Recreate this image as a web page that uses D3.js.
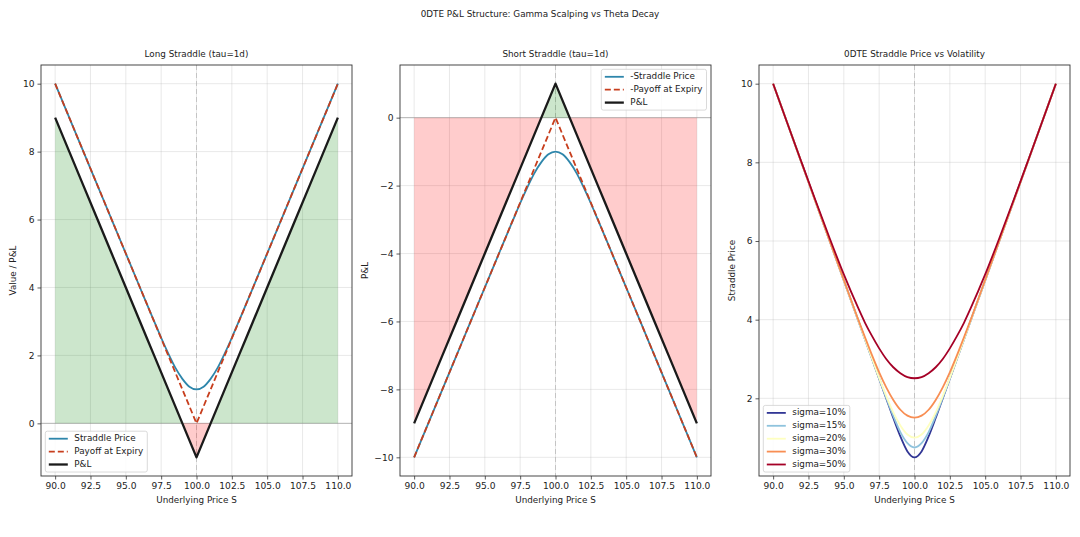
<!DOCTYPE html>
<html>
<head>
<meta charset="utf-8">
<script src="https://cdn.jsdelivr.net/npm/d3@7"></script>
<style>
  body { margin: 0; background: #fff; }
  svg text { font-family: "DejaVu Sans", sans-serif; fill: #222; }
</style>
</head>
<body>
<div id="main"></div>
<script>
// Underlying grid (finer around the strike)
const prices = [90, 91, 92, 93, 94, 95, 96, 96.5, 97, 97.5, 98, 98.5, 99, 99.5, 100, 100.5, 101, 101.5, 102, 102.5, 103, 103.5, 104, 105, 106, 107, 108, 109, 110];

// Long straddle panel
const straddlePrice = [10, 9, 8, 7, 6, 5, 4, 3.50, 3.01, 2.52, 2.06, 1.64, 1.31, 1.08, 1.00, 1.08, 1.31, 1.64, 2.06, 2.52, 3.01, 3.50, 4, 5, 6, 7, 8, 9, 10];
const payoffExpiry = [10, 9, 8, 7, 6, 5, 4, 3.5, 3, 2.5, 2, 1.5, 1, 0.5, 0, 0.5, 1, 1.5, 2, 2.5, 3, 3.5, 4, 5, 6, 7, 8, 9, 10];
const longPnl = [9, 8, 7, 6, 5, 4, 3, 2.5, 2, 1.5, 1, 0.5, 0, -0.5, -1, -0.5, 0, 0.5, 1, 1.5, 2, 2.5, 3, 4, 5, 6, 7, 8, 9];

// Short straddle panel
const shortStraddle = [-10, -9, -8, -7, -6, -5, -4, -3.50, -3.01, -2.52, -2.06, -1.64, -1.31, -1.08, -1.00, -1.08, -1.31, -1.64, -2.06, -2.52, -3.01, -3.50, -4, -5, -6, -7, -8, -9, -10];
const shortPayoff = [-10, -9, -8, -7, -6, -5, -4, -3.5, -3, -2.5, -2, -1.5, -1, -0.5, 0, -0.5, -1, -1.5, -2, -2.5, -3, -3.5, -4, -5, -6, -7, -8, -9, -10];
const shortPnl = [-9, -8, -7, -6, -5, -4, -3, -2.5, -2, -1.5, -1, -0.5, 0, 0.5, 1, 0.5, 0, -0.5, -1, -1.5, -2, -2.5, -3, -4, -5, -6, -7, -8, -9];

// Straddle price vs volatility panel
const sigmaLabels = ["sigma=10%", "sigma=15%", "sigma=20%", "sigma=30%", "sigma=50%"];
const sigmaColors = ["#313695", "#8fc3dd", "#feffc0", "#f88e53", "#a50026"];
const sigma10 = [10, 9, 8, 7, 6, 5, 4, 3.5, 3, 2.5, 2, 1.50, 1.03, 0.65, 0.50, 0.65, 1.03, 1.50, 2, 2.5, 3, 3.5, 4, 5, 6, 7, 8, 9, 10];
const sigma15 = [10, 9, 8, 7, 6, 5, 4, 3.5, 3, 2.50, 2.01, 1.55, 1.14, 0.86, 0.75, 0.86, 1.14, 1.55, 2.01, 2.50, 3, 3.5, 4, 5, 6, 7, 8, 9, 10];
const sigma20 = [10, 9, 8, 7, 6, 5, 4, 3.50, 3.01, 2.52, 2.06, 1.64, 1.31, 1.08, 1.00, 1.08, 1.31, 1.64, 2.06, 2.52, 3.01, 3.50, 4, 5, 6, 7, 8, 9, 10];
const sigma30 = [10, 9, 8, 7, 6.00, 5.01, 4.02, 3.55, 3.09, 2.66, 2.28, 1.96, 1.71, 1.56, 1.51, 1.56, 1.71, 1.96, 2.28, 2.66, 3.09, 3.55, 4.02, 5.01, 6.00, 7, 8, 9, 10];
const sigma50 = [10.00, 9.00, 8.01, 7.03, 6.07, 5.15, 4.31, 3.92, 3.58, 3.27, 3.00, 2.79, 2.64, 2.54, 2.51, 2.54, 2.64, 2.79, 3.00, 3.27, 3.58, 3.92, 4.31, 5.15, 6.07, 7.03, 8.01, 9.00, 10.00];
const sigmaSeries = [sigma10, sigma15, sigma20, sigma30, sigma50];

const xTicks = [90, 92.5, 95, 97.5, 100, 102.5, 105, 107.5, 110];

const width = 1080;
const height = 537;
const panelTop = 65;
const panelW = 311;
const panelH = 411;
const blue = "#2e86ab";
const red = "#c73e1d";
const dash = "6,3";

const svg = d3.select("div#main").append("svg")
  .attr("width", width)
  .attr("height", height);

svg.append("text")
  .attr("x", width / 2)
  .attr("y", 14)
  .attr("text-anchor", "middle")
  .attr("dominant-baseline", "middle")
  .style("font-size", "8.8px")
  .text("0DTE P&L Structure: Gamma Scalping vs Theta Decay");

const toPoints = function (values) {
  return prices.map((p, i) => ({ x: p, y: values[i] }));
};

/**
 * Sets up one subplot: grid, axes, labels. Returns the group plus scales.
 */
const makePanel = function (left, yDomain, yTicks, title, yLabel, yLabelX) {
  const g = svg.append("g").attr("transform", "translate(" + left + "," + panelTop + ")");
  const x = d3.scaleLinear().domain([89, 111]).range([0, panelW]);
  const y = d3.scaleLinear().domain(yDomain).range([panelH, 0]);

  // grid
  g.append("g").selectAll("line").data(xTicks).enter().append("line")
    .attr("x1", d => x(d)).attr("x2", d => x(d))
    .attr("y1", 0).attr("y2", panelH)
    .attr("stroke", "#b0b0b0").attr("stroke-opacity", 0.35).attr("stroke-width", 0.8);
  g.append("g").selectAll("line").data(yTicks).enter().append("line")
    .attr("x1", 0).attr("x2", panelW)
    .attr("y1", d => y(d)).attr("y2", d => y(d))
    .attr("stroke", "#b0b0b0").attr("stroke-opacity", 0.35).attr("stroke-width", 0.8);

  const xAxis = g.append("g")
    .attr("transform", "translate(0," + panelH + ")")
    .call(d3.axisBottom(x).tickValues(xTicks).tickFormat(d3.format(".1f")).tickSize(3.5).tickPadding(3));
  const yAxis = g.append("g")
    .call(d3.axisLeft(y).tickValues(yTicks).tickFormat(d3.format("d")).tickSize(3.5).tickPadding(3));
  [xAxis, yAxis].forEach(a => {
    a.select(".domain").remove();
    a.selectAll(".tick line").attr("stroke", "#333").attr("stroke-width", 0.8);
    a.selectAll(".tick text").style("font-size", "9.1px").style("font-family", "DejaVu Sans, sans-serif").attr("fill", "#222");
  });

  g.append("text")
    .attr("x", panelW / 2).attr("y", -8)
    .attr("text-anchor", "middle")
    .style("font-size", "8.8px")
    .text(title);
  g.append("text")
    .attr("x", panelW / 2).attr("y", panelH + 27)
    .attr("text-anchor", "middle")
    .style("font-size", "8.8px")
    .text("Underlying Price S");
  g.append("text")
    .attr("transform", "translate(" + (yLabelX - left) + "," + (panelH / 2) + ") rotate(-90)")
    .attr("text-anchor", "middle")
    .attr("dominant-baseline", "middle")
    .style("font-size", "8.8px")
    .text(yLabel);

  const marks = g.append("g");
  return { g: g, marks: marks, x: x, y: y };
};

const addFrame = function (panel) {
  panel.g.append("rect")
    .attr("width", panelW).attr("height", panelH)
    .attr("fill", "none").attr("stroke", "#333").attr("stroke-width", 0.9);
};

const addRefLines = function (panel, zeroLine) {
  panel.marks.append("line")
    .attr("x1", panel.x(100)).attr("x2", panel.x(100))
    .attr("y1", 0).attr("y2", panelH)
    .attr("stroke", "#bbb").attr("stroke-width", 1).attr("stroke-dasharray", "5,3").attr("opacity", 0.8);
  if (zeroLine) {
    panel.marks.append("line")
      .attr("x1", 0).attr("x2", panelW)
      .attr("y1", panel.y(0)).attr("y2", panel.y(0))
      .attr("stroke", "#999").attr("stroke-width", 0.8).attr("opacity", 0.8);
  }
};

const addPnlFill = function (panel, pnl) {
  const pts = toPoints(pnl);
  const posArea = d3.area().x(d => panel.x(d.x)).y0(panel.y(0)).y1(d => panel.y(Math.max(d.y, 0)));
  const negArea = d3.area().x(d => panel.x(d.x)).y0(panel.y(0)).y1(d => panel.y(Math.min(d.y, 0)));
  panel.marks.append("path").datum(pts).attr("d", posArea).attr("fill", "rgb(0,128,0)").attr("fill-opacity", 0.2);
  panel.marks.append("path").datum(pts).attr("d", negArea).attr("fill", "rgb(255,0,0)").attr("fill-opacity", 0.2);
};

const addLine = function (panel, values, color, lw, dashArr, curve) {
  const line = d3.line().x(d => panel.x(d.x)).y(d => panel.y(d.y)).curve(curve || d3.curveLinear);
  panel.marks.append("path").datum(toPoints(values))
    .attr("d", line)
    .attr("fill", "none")
    .attr("stroke", color)
    .attr("stroke-width", lw)
    .attr("stroke-dasharray", dashArr || null)
    .attr("stroke-linejoin", "round");
};

/**
 * Matplotlib-like legend box. corner: "ll" lower-left, "ur" upper-right.
 */
const addLegend = function (panel, items, corner) {
  const rowH = 12.9;
  const boxH = 15 + (items.length - 1) * rowH;
  const lg = panel.g.append("g");
  const box = lg.append("rect")
    .attr("rx", 2).attr("ry", 2)
    .attr("height", boxH)
    .attr("fill", "#fff").attr("fill-opacity", 0.85)
    .attr("stroke", "#d0d0d0").attr("stroke-width", 0.8);
  let maxLen = 0;
  items.forEach((item, i) => {
    const yy = 7.5 + i * rowH;
    lg.append("line")
      .attr("x1", 3.5).attr("x2", 22.5).attr("y1", yy).attr("y2", yy)
      .attr("stroke", item.color).attr("stroke-width", item.lw)
      .attr("stroke-dasharray", item.dash || null);
    const t = lg.append("text")
      .attr("x", 29).attr("y", yy)
      .attr("dominant-baseline", "middle")
      .style("font-size", "8.8px")
      .text(item.label);
    maxLen = Math.max(maxLen, t.node().getComputedTextLength());
  });
  const boxW = 29 + maxLen + 4;
  box.attr("width", boxW);
  let bx = 4.3;
  let by = panelH - 4 - boxH;
  if (corner === "ur") {
    bx = panelW - 4.5 - boxW;
    by = 4.3;
  }
  lg.attr("transform", "translate(" + bx + "," + by + ")");
};

// Panel 1: long straddle
const p1 = makePanel(41, [-1.55, 10.55], [0, 2, 4, 6, 8, 10], "Long Straddle (tau=1d)", "Value / P&L", 13);
addRefLines(p1, true);
addPnlFill(p1, longPnl);
addLine(p1, straddlePrice, blue, 1.8, null, d3.curveMonotoneX);
addLine(p1, payoffExpiry, red, 1.8, dash);
addLine(p1, longPnl, "#1a1a1a", 2.3);
addFrame(p1);
addLegend(p1, [
  { label: "Straddle Price", color: blue, lw: 1.8 },
  { label: "Payoff at Expiry", color: red, lw: 1.8, dash: dash },
  { label: "P&L", color: "#1a1a1a", lw: 2.3 }
], "ll");

// Panel 2: short straddle
const p2 = makePanel(400, [-10.55, 1.55], [-10, -8, -6, -4, -2, 0], "Short Straddle (tau=1d)", "P&L", 365);
addRefLines(p2, true);
addPnlFill(p2, shortPnl);
addLine(p2, shortStraddle, blue, 1.8, null, d3.curveMonotoneX);
addLine(p2, shortPayoff, red, 1.8, dash);
addLine(p2, shortPnl, "#1a1a1a", 2.3);
addFrame(p2);
addLegend(p2, [
  { label: "-Straddle Price", color: blue, lw: 1.8 },
  { label: "-Payoff at Expiry", color: red, lw: 1.8, dash: dash },
  { label: "P&L", color: "#1a1a1a", lw: 2.3 }
], "ur");

// Panel 3: straddle price vs volatility
const p3 = makePanel(759, [0.025, 10.475], [2, 4, 6, 8, 10], "0DTE Straddle Price vs Volatility", "Straddle Price", 732);
addRefLines(p3, false);
sigmaSeries.forEach((s, i) => {
  addLine(p3, s, sigmaColors[i], 1.8, null, d3.curveMonotoneX);
});
addFrame(p3);
addLegend(p3, sigmaLabels.map((l, i) => ({ label: l, color: sigmaColors[i], lw: 1.8 })), "ll");
</script>
</body>
</html>
